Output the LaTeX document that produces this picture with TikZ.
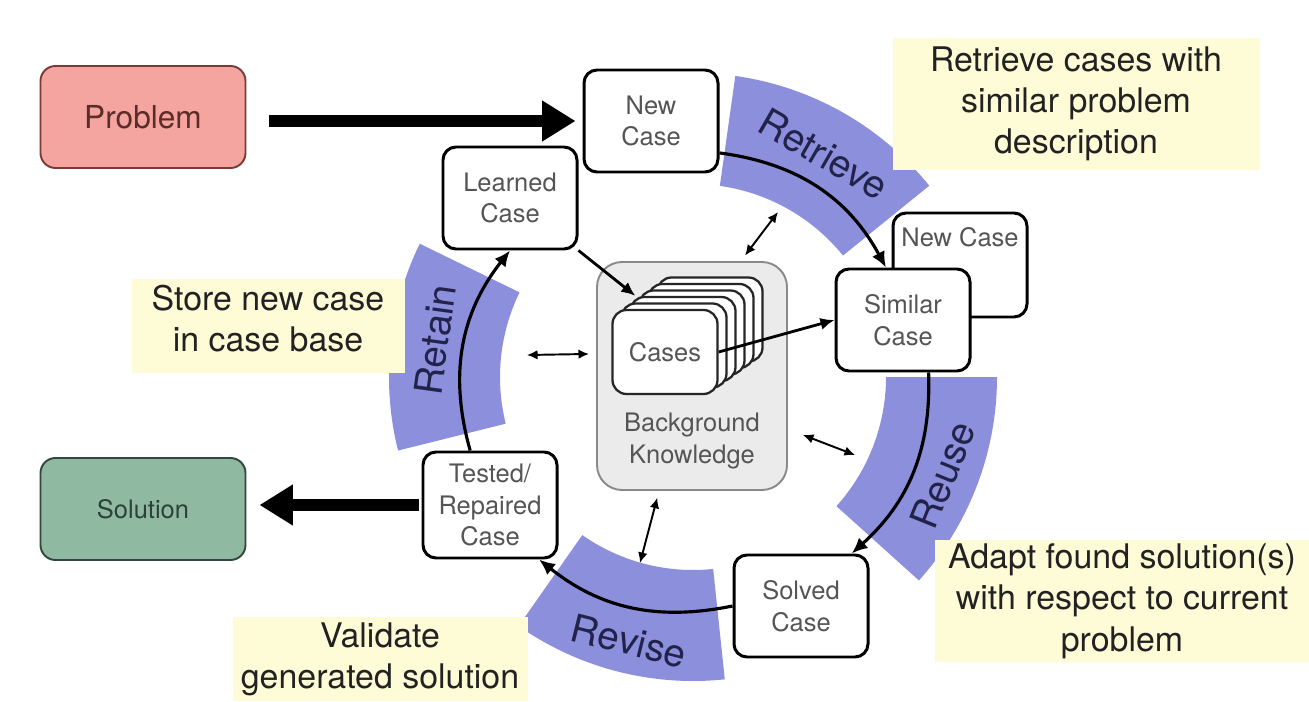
\documentclass[tikz,border=0pt]{standalone}
\usepackage{fontspec}
\setmainfont{TeX Gyre Heros}
\usepackage{tikz}
\usetikzlibrary{arrows.meta,positioning,calc}
\definecolor{problemfill}{HTML}{F5A5A0}
\definecolor{problemline}{HTML}{7A3B37}
\definecolor{problemtext}{HTML}{5C2C29}
\definecolor{solutionfill}{HTML}{8FB9A0}
\definecolor{solutionline}{HTML}{34473C}
\definecolor{solutiontext}{HTML}{2C4236}
\definecolor{bandblue}{HTML}{8C8FDB}
\definecolor{stagetext}{HTML}{22234A}
\definecolor{noteyellow}{HTML}{FEFCD7}
\definecolor{notetext}{HTML}{222222}
\definecolor{casetext}{HTML}{555555}
\definecolor{kbgray}{HTML}{EBEBEB}
\definecolor{kbline}{HTML}{8A8A8A}
\newcommand{\casefont}{\fontsize{14.5pt}{18pt}\selectfont}
\newcommand{\notefont}{\fontsize{19.3pt}{23.5pt}\selectfont}
\newcommand{\bandfont}{\fontsize{22pt}{26pt}\selectfont}
\newcommand{\problemfont}{\fontsize{18pt}{22pt}\selectfont}
\tikzset{
  endbox/.style={
    rectangle, rounded corners=0.3cm, draw=#1line, fill=#1fill, text=#1text,
    line width=1.1pt, minimum width=4.1cm, minimum height=2.04cm
  },
  casebox/.style={
    rectangle, rounded corners=0.26cm, draw=black, fill=white,
    line width=1.7pt, minimum width=2.68cm, minimum height=2.04cm,
    font=\casefont, text=casetext, align=center, inner sep=2pt
  },
  cardbox/.style={
    rectangle, rounded corners=0.28cm, draw=black!85, fill=white,
    line width=1.3pt, minimum width=2.1cm, minimum height=1.68cm,
    font=\casefont, text=casetext
  },
  kbbox/.style={
    rectangle, rounded corners=0.5cm, draw=kbline, fill=kbgray,
    line width=1.1pt, minimum width=3.8cm, minimum height=4.56cm
  },
  labeltext/.style={font=\casefont, text=casetext, align=center},
  notebox/.style={
    rectangle, fill=noteyellow, inner sep=0pt,
    font=\notefont, text=notetext, align=center
  },
  bandlabel/.style={font=\bandfont, text=stagetext},
  % ── connectors ──
  bigarrow/.style={-{Triangle[length=19pt,width=22pt]}, line width=6.5pt},
  cyclearrow/.style={-{Latex[length=9pt,width=8pt]}, line width=1.8pt},
  linkarrow/.style={-{Latex[length=8pt,width=7pt]}, line width=1.6pt},
  kbarrow/.style={{Latex[length=6pt,width=5.5pt]}-{Latex[length=6pt,width=5.5pt]}, line width=1.1pt},
}

\begin{document}
\begin{tikzpicture}
  \useasboundingbox (0,0) rectangle (26.18,14.02);
  \coordinate (ring) at (13.86,6.48);

  % Stage bands
  \foreach \from/\to in {39/82, -42/0, -125/-84, 154/194} {
    \fill[bandblue] ($(ring)+(\from:6.08)$) arc[start angle=\from, end angle=\to, radius=6.08]
      -- ($(ring)+(\to:3.86)$) arc[start angle=\to, end angle=\from, radius=3.86] -- cycle;
  }
  \foreach \ang/\rad/\rot/\stage in {59.6/5.17/-30/Retrieve, -21.4/5.37/68/Reuse,
                                     -103.6/5.43/-14/Revise, 171.8/5.21/82/Retain}
    \node[bandlabel, rotate=\rot] (lbl\stage) at ($(ring)+(\ang:\rad)$) {\stage};

  % Notes
  \node[notebox, minimum width=7.34cm, minimum height=2.64cm] (noteretrieve) at (21.52,11.94)
    {Retrieve cases with\\similar problem\\description};
  \node[notebox, minimum width=5.46cm, minimum height=1.88cm, text depth=0.32cm] (noteretain) at (5.36,7.50)
    {Store new case\\in case base};
  \node[notebox, minimum width=7.48cm, minimum height=2.44cm] (notereuse) at (22.44,2.00)
    {Adapt found solution(s)\\with respect to current\\problem};
  \node[notebox, minimum width=5.90cm, minimum height=1.68cm] (noterevise) at (7.60,0.84)
    {Validate\\generated solution};

  % Background knowledge with case stack
  \node[kbbox] (bk) at (13.84,6.50) {};
  \node[labeltext] (bklabel) at (13.84,5.20) {Background\\Knowledge};
  \coordinate (stack) at (13.30,6.98);
  \foreach \k in {5,4,3,2,1}
    \node[cardbox] (card\k) at ($(stack)+(0.18*\k,0.13*\k)$) {};
  \node[cardbox] (cases) at (stack) {Cases};

  % Cases around the cycle
  \node[casebox] (newcase) at (13.02,11.60) {New\\Case};
  \node[casebox] (learned) at (10.20,10.06) {Learned\\Case};
  \node[casebox, minimum height=2.08cm,
        label={[labeltext, anchor=north, yshift=-0.2cm]north:New Case}] (newcaseback) at (19.20,8.72) {};
  \node[casebox] (similar) at (18.06,7.62) {Similar\\Case};
  \node[casebox] (solved) at (16.02,1.90) {Solved\\Case};
  \node[casebox, minimum height=2.12cm] (tested) at (9.80,3.92) {Tested/\\Repaired\\Case};

  % Input and output
  \node[endbox=problem, font=\problemfont] (problem) at (2.86,11.68) {Problem};
  \node[endbox=solution, font=\casefont] (solution) at (2.86,3.84) {Solution};

  \draw[bigarrow, shorten <=0.46cm, shorten >=0.14cm] (problem.east |- newcase.west) -- (newcase.west);
  \draw[bigarrow, shorten <=0.06cm, shorten >=0.26cm] (tested.west) -- (solution.east |- tested.west);

  % Cycle
  \draw[cyclearrow] (newcase.-25) to[bend left=27] (similar.108);
  \draw[cyclearrow] (similar.-64) to[bend left=25] (solved.46);
  \draw[cyclearrow] (solved.west) to[bend left=25] (tested.-48);
  \draw[cyclearrow] (tested.110) to[bend left=27] (learned.south);

  \draw[linkarrow] (learned.south east) -- ($(card2.north west)+(0.12,0)$);
  \draw[linkarrow] (cases.east) -- (similar.west);

  % Knowledge links
  \coordinate (kbretrieve) at (15.56,9.78);
  \coordinate (kbretain) at (10.54,6.92);
  \coordinate (kbreuse) at (17.10,4.92);
  \coordinate (kbrevise) at (12.80,2.76);
  \draw[kbarrow, shorten <=0.14cm] (bk.67) -- (kbretrieve);
  \draw[kbarrow, shorten <=0.14cm] (bk.167) -- (kbretain);
  \draw[kbarrow, shorten <=0.32cm] (bk.-29) -- (kbreuse);
  \draw[kbarrow, shorten <=0.14cm] (bk.-106) -- (kbrevise);
\end{tikzpicture}
\end{document}
